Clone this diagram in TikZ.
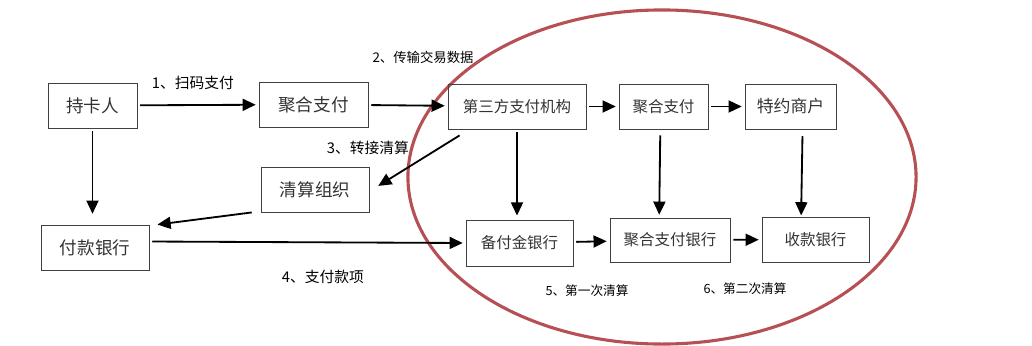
\documentclass[tikz,border=0pt]{standalone}
\usepackage{fontspec}
\setmainfont{Noto Sans CJK SC}
\usetikzlibrary{arrows.meta}

\begin{document}
\begin{tikzpicture}[x=0.025cm,y=0.025cm,
    box/.style={draw=black!75,line width=0.6pt,minimum height=1.125cm,inner sep=0pt,
      text=black!80,font=\fontsize{11}{13}\selectfont},
    bigbox/.style={box,font=\fontsize{12.5}{14}\selectfont},
    lab/.style={inner sep=0pt,font=\fontsize{10.5}{12}\selectfont},
    smalllab/.style={lab,font=\fontsize{9}{11}\selectfont},
    arr/.style={-{Triangle[length=0.33cm,width=0.3cm]},line width=1.3pt,
      shorten >=2pt,shorten <=2pt},
    ring/.style={draw={rgb,255:red,182;green,80;blue,84},line width=2.2pt}]
        \useasboundingbox (0,0) rectangle (1032,345);
        % the circled part
        \draw[ring] (662,168) ellipse [x radius=6.35cm, y radius=4.175cm];
        % boxes
        \node[bigbox,minimum width=2.225cm] (Holder) at (92.5,239.5) {持卡人};
        \node[bigbox,minimum width=2.725cm] (AggA) at (313.5,240.5) {聚合支付};
        \node[bigbox,minimum width=2.7cm] (Clear) at (315,155.5) {清算组织};
        \node[bigbox,minimum width=2.7cm] (PayBank) at (95,97.5) {付款银行};
        \node[box,minimum width=3.45cm] (Third) at (517,238.5) {第三方支付机构};
        \node[box,minimum width=2.225cm] (AggB) at (663.5,238.5) {聚合支付};
        \node[box,minimum width=2.275cm,font=\fontsize{12}{14}\selectfont] (Merchant) at (790.5,238.5) {特约商户};
        \node[box,minimum width=2.675cm,minimum height=1.15cm] (Reserve) at (519.5,102) {备付金银行};
        \node[box,minimum width=3cm,minimum height=1.1cm] (AggBank) at (670,105) {聚合支付银行};
        \node[box,minimum width=2.675cm] (RecvBank) at (815.5,105.5) {收款银行};
        % labels
        \node[lab] (L1) at (193,262) {1、扫码支付};
        \node[lab,font=\fontsize{9.5}{11}\selectfont] (L2) at (423,288) {2、传输交易数据};
        \node[lab] (L3) at (368,197) {3、转接清算};
        \node[lab] (L4) at (323,68) {4、支付款项};
        \node[smalllab] (L5) at (587,54) {5、第一次清算};
        \node[smalllab] (L6) at (745,56) {6、第二次清算};
        % arrows
        \path[arr] (Holder) edge (AggA)
        (AggA) edge (Third)  (Third) edge (AggB)
        (AggB) edge (Merchant)  (Reserve) edge (AggBank)
        (AggBank) edge (RecvBank);
        \draw[arr,shorten >=0.27cm] (Holder.south) -- (PayBank.north -| Holder.south);
        \draw[arr,shorten >=0.1cm] (Third.south) -- (Reserve.north -| Third.south);
        \draw[arr,shorten <=0.15cm] ([xshift=-0.08cm]AggB.south) -- ([xshift=-0.27cm]AggBank.north);
        \draw[arr,shorten >=0.03cm] ([xshift=0.3cm,yshift=-0.1cm]Merchant.south) -- ([xshift=-0.36cm]RecvBank.north);
        \draw[arr,shorten >=0pt,shorten <=0pt] ([xshift=0.3cm,yshift=-0.15cm]Third.south west) -- ([xshift=0.22cm,yshift=0.09cm]Clear.east);
        \draw[arr,shorten >=0pt,shorten <=0pt] ([xshift=-0.22cm]Clear.south west) -- ([xshift=0.2cm]PayBank.north east);
        \draw[arr] ([yshift=0.15cm]PayBank.east) -- (Reserve.west);
      \end{tikzpicture}
\end{document}
